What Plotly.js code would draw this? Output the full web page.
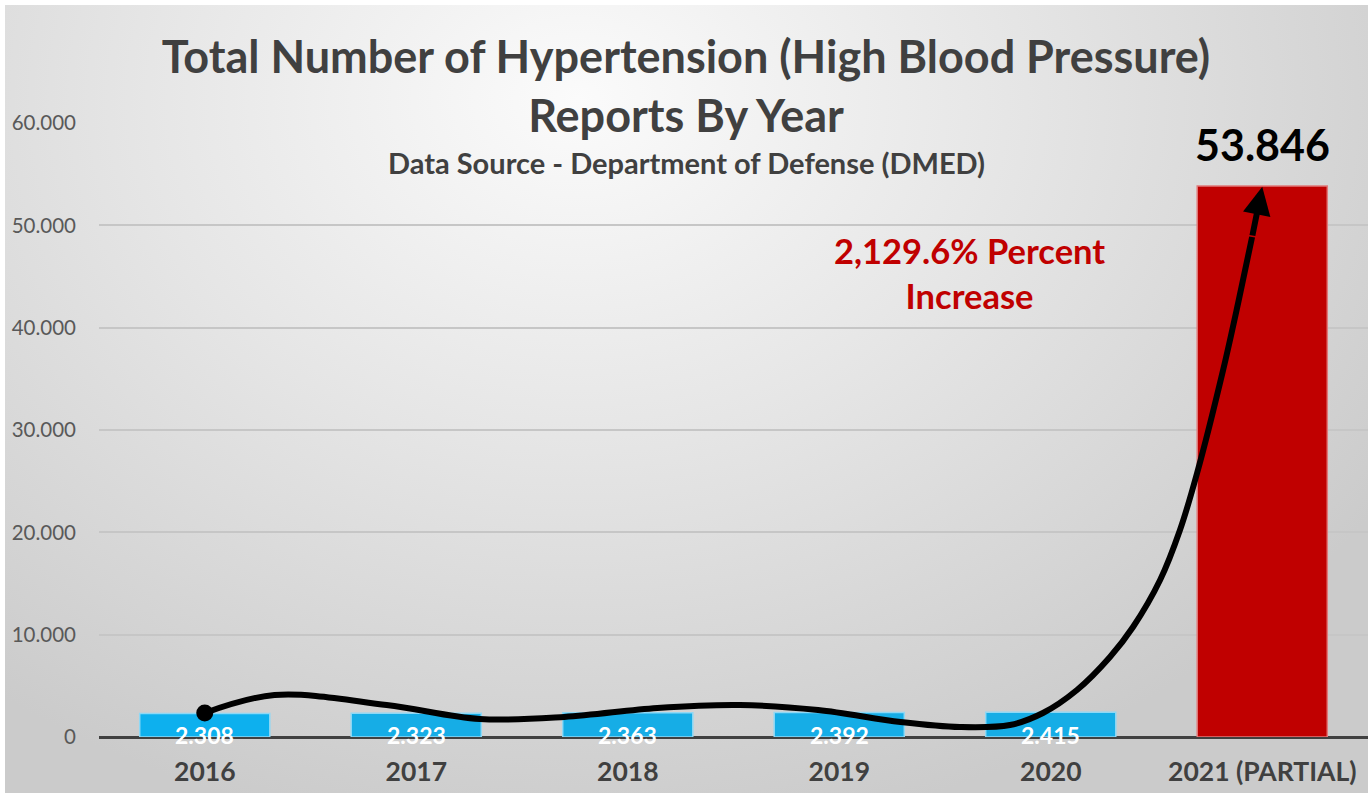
<!DOCTYPE html>
<html>
<head>
<meta charset="utf-8">
<script src="https://cdn.plot.ly/plotly-3.0.1.min.js"></script>
<style>
  html, body { margin: 0; padding: 0; background: #ffffff; }
  #wrap { position: relative; width: 1372px; height: 793px; overflow: hidden; }
  #bg { position: absolute; left: 5px; top: 5px; right: 4px; bottom: 0;
        background: radial-gradient(ellipse 70% 95% at 42% 12%, #fbfbfb 0%, #e6e6e6 45%, #cbcbcb 100%); }
  #chart { position: absolute; left: 0; top: 0; width: 1372px; height: 793px; }
</style>
</head>
<body>
<div id="wrap"><div id="bg"></div><div id="chart"></div></div>
<script>
// ---- data ----
const years = ['2016', '2017', '2018', '2019', '2020', '2021 (PARTIAL)'];
const reports = [2308, 2323, 2363, 2392, 2415, 53846];
const barColors = ['#0db0ee', '#16ade6', '#16ade6', '#16ade6', '#16ade6', '#c00000'];
const barLines = ['#8fd8f5', '#8fd8f5', '#8fd8f5', '#8fd8f5', '#8fd8f5', '#e07a7a'];
const yTicks = [0, 10000, 20000, 30000, 40000, 50000, 60000];
// hand-drawn trend curve (category index, value)
const curveX = [0, 0.33, 0.86, 1.30, 1.70, 2.14, 2.53, 2.90, 3.29, 3.57, 3.807, 3.963, 4.124, 4.280, 4.389, 4.517, 4.611, 4.692, 4.815, 4.886, 4.952];
const curveY = [2346, 4100, 3130, 1760, 1960, 2840, 3130, 2640, 1470, 977, 1173, 2345, 4593, 7818, 10749, 15342, 20228, 25798, 35863, 42410, 48860];
const arrowTipX = [5.0];
const arrowTipY = [53760];
const increaseText = '2,129.6% Percent<br>Increase';
const titleText = 'Total Number of Hypertension (High Blood Pressure)<br>Reports By Year';
const subtitleText = 'Data Source - Department of Defense (DMED)';

function fmt(v) { return String(v).replace(/\B(?=(\d{3})+(?!\d))/g, '.'); }

const FONT = 'Lato, "Open Sans", sans-serif';
const idx = years.map((_, i) => i);

const traces = [
  {
    type: 'bar', x: idx, y: reports, width: 0.615,
    marker: { color: barColors, line: { color: barLines, width: 1.5 } },
    hovertext: years, hoverinfo: 'text+y', showlegend: false
  },
  {
    type: 'scatter', mode: 'lines', x: curveX, y: curveY,
    line: { color: '#000000', width: 6, shape: 'spline', smoothing: 1 },
    hoverinfo: 'skip', showlegend: false
  },
  {
    type: 'scatter', mode: 'markers', x: [curveX[0]], y: [curveY[0]],
    marker: { color: '#000000', size: 17 }, hoverinfo: 'skip', showlegend: false
  }
];

const annotations = [];
// bar value labels
reports.forEach((v, i) => {
  if (i < reports.length - 1) {
    annotations.push({
      x: i, y: 0, xref: 'x', yref: 'y', text: fmt(v), showarrow: false,
      yanchor: 'middle', yshift: 2,
      font: { family: FONT, size: 23, color: '#ffffff', weight: 'bold' }
    });
  } else {
    annotations.push({
      x: i, y: v, xref: 'x', yref: 'y', text: fmt(v), showarrow: false,
      yanchor: 'bottom', yshift: 14,
      font: { family: FONT, size: 43, color: '#000000', weight: 'bold' }
    });
  }
});
// arrow head
annotations.push({
  x: arrowTipX[0], y: arrowTipY[0], xref: 'x', yref: 'y',
  ax: curveX[curveX.length - 1], ay: curveY[curveY.length - 1], axref: 'x', ayref: 'y',
  text: '', showarrow: true, arrowhead: 2, arrowsize: 0.93, arrowwidth: 6, arrowcolor: '#000000', standoff: 0
});
// percent increase note
annotations.push({
  x: 0.6856, y: 0.7557, xref: 'paper', yref: 'paper', text: increaseText, showarrow: false,
  xanchor: 'center', yanchor: 'middle', align: 'center',
  font: { family: FONT, size: 34.5, color: '#c00000', weight: 'bold' }
});
// subtitle
annotations.push({
  x: 0.4626, y: 0.9349, xref: 'paper', yref: 'paper', text: subtitleText, showarrow: false,
  xanchor: 'center', yanchor: 'middle',
  font: { family: FONT, size: 29, color: '#404040', weight: 'bold' }
});

const layout = {
  width: 1372, height: 793,
  margin: { l: 99, r: 4, t: 123, b: 56, pad: 0 },
  paper_bgcolor: 'rgba(0,0,0,0)', plot_bgcolor: 'rgba(0,0,0,0)',
  separators: ',.',
  title: {
    text: titleText, x: 0.5, xref: 'container', xanchor: 'center',
    y: 0.9076, yref: 'container', yanchor: 'top',
    font: { family: FONT, size: 45, color: '#404040', weight: 'bold' }
  },
  xaxis: {
    type: 'linear', range: [-0.5, 5.5], tickvals: idx, ticktext: years,
    showgrid: false, zeroline: false, showline: false, ticks: '',
    ticklabelstandoff: 16,
    tickfont: { family: FONT, size: 26.5, color: '#404040', weight: 'bold' }
  },
  yaxis: {
    range: [0, 60000], tickvals: yTicks, tickformat: ',d',
    showgrid: true, gridcolor: '#c6c6c6', gridwidth: 2,
    zeroline: true, zerolinecolor: '#404040', zerolinewidth: 3,
    showline: false, ticks: '', ticklabelstandoff: 22,
    tickfont: { family: FONT, size: 20.5, color: '#595959' }
  },
  annotations: annotations,
  showlegend: false
};

Plotly.newPlot('chart', traces, layout, { displayModeBar: false, responsive: false });
</script>
</body>
</html>
